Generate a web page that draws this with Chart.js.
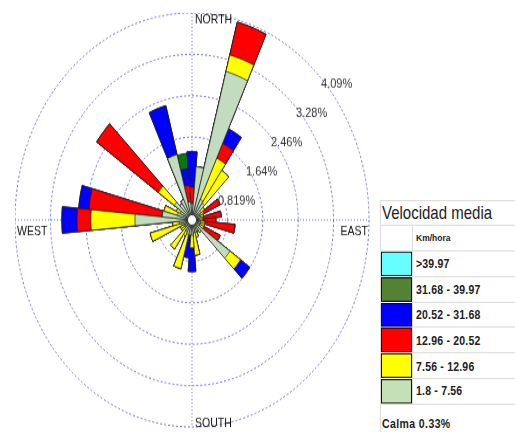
<!DOCTYPE html>
<html>
<head>
<meta charset="utf-8">
<script src="https://cdn.jsdelivr.net/npm/chart.js@4.4.0/dist/chart.umd.min.js"></script>
<style>
html, body { margin: 0; padding: 0; background: #fff; overflow: hidden; }
#page { position: absolute; left: 0; top: 0; width: 515px; height: 370px; transform: scaleY(1.17); transform-origin: 0 0; font-family: 'Liberation Sans', Arial, sans-serif; }
#wrap { position: absolute; left: 15px; top: 11.4px; width: 355px; height: 355px; }
#legend { position: absolute; left: 380px; top: 171px; width: 150px; border-collapse: collapse; border: 1px solid #c4c4c4; color: #222; background: #fff; }
#legend td { border: 1px solid #dcdcdc; padding: 0; white-space: nowrap; }
#legend td.ttl { height: 19.7px; font-size: 15px; padding-left: 1px; }
#legend td.unit { height: 21.4px; font-size: 8.5px; font-weight: bold; padding-left: 3px; }
#legend td.sw { width: 31px; border-top: none; border-bottom: none; }
#legend td.sw div { box-sizing: border-box; width: 31px; height: 20.8px; border: 1px solid #111; }
#legend td.lab { height: 20.8px; font-size: 10.5px; font-weight: bold; padding-left: 3px; letter-spacing: 0.2px; }
#legend td.calm { height: 22.2px; font-size: 10.5px; font-weight: bold; padding-left: 1px; letter-spacing: 0.4px; vertical-align: bottom; padding-bottom: 2px; }
</style>
</head>
<body>
<div id="page">
  <div id="wrap"><canvas id="roseChart" width="355" height="355"></canvas></div>
  <table id="legend"></table>
</div>
<script>
// wind directions, one petal every 10 degrees starting at north
var dirLabels = ['0', '10', '20', '30', '40', '50', '60', '70', '80', '90', '100', '110',
                 '120', '130', '140', '150', '160', '170', '180', '190', '200', '210', '220', '230',
                 '240', '250', '260', '270', '280', '290', '300', '310', '320', '330', '340', '350'];

// frequency (%) of each speed class per direction
var f1 = [0.32, 1.06, 3.04, 0.45, 0.41, 0.25, 0.20, 0.20, 0.15, 0.15, 0.20, 0.20,
          0.20, 1.07, 0.30, 0.25, 0.25, 0.25, 0.30, 0.30, 0.30, 0.25, 0.25, 0.20,
          0.20, 0.25, 0.30, 1.32, 0.69, 0.35, 0.30, 0.50, 0.40, 0.45, 1.34, 0.36];
var f2 = [0, 0, 0.34, 0.90, 0.79, 0.10, 0.10, 0.08, 0.10, 0.10, 0.10, 0.10,
          0.10, 0.30, 0, 0, 0.10, 0.45, 0.25, 0, 0.70, 0.10, 0.45, 0.10,
          0.10, 0.75, 0.15, 1.02, 0, 0.32, 0.10, 0.45, 0, 0, 0, 0];
var f3 = [0.33, 0, 0.67, 0.32, 0, 0, 0.42, 0, 0.43, 0.30, 0.70, 0,
          0.42, 0, 0, 0, 0, 0, 0, 0, 0, 0, 0, 0,
          0, 0, 0, 0.32, 1.70, 0, 0, 1.74, 0, 0, 0, 0.33];
var f4 = [0.70, 0, 0, 0.32, 0, 0, 0, 0, 0, 0, 0, 0,
          0, 0.26, 0, 0, 0, 0, 0.47, 0.45, 0, 0, 0, 0,
          0, 0, 0, 0.35, 0.24, 0, 0, 0, 0, 0, 1.00, 0.33];
var f5 = [0, 0, 0, 0, 0, 0, 0, 0, 0, 0, 0, 0,
          0, 0, 0, 0, 0, 0, 0, 0, 0, 0, 0, 0,
          0, 0, 0, 0, 0, 0, 0, 0, 0, 0, 0, 0.30];
var f6 = [0, 0, 0, 0, 0, 0, 0, 0, 0, 0, 0, 0,
          0, 0, 0, 0, 0, 0, 0, 0, 0, 0, 0, 0,
          0, 0, 0, 0, 0, 0, 0, 0, 0, 0, 0, 0];

var speedClasses = ['1.8 - 7.56', '7.56 - 12.96', '12.96 - 20.52', '20.52 - 31.68', '31.68 - 39.97', '>39.97'];
var calmPct = 0.33;

var ringValues = [0.819, 1.638, 2.457, 3.276, 4.095];
var ringLabels = ['0.819%', '1.64%', '2.46%', '3.28%', '4.09%'];

var petalColors = ['#c3dcc0', '#ffff00', '#ff0000', '#0000ff', '#087a08', '#66ffff'];
var legendColors = ['#c5dfb6', '#ffff00', '#ff0000', '#0000ff', '#548235', '#66ffff'];
var gridColor = '#7070c8';

// stack the classes: each dataset is the running total, smallest one drawn on top
var classSeries = [f1, f2, f3, f4, f5, f6];
var running = dirLabels.map(function () { return 0; });
var datasets = classSeries.map(function (serie, k) {
    running = running.map(function (v, i) { return v + serie[i]; });
    return {
        label: speedClasses[k],
        data: running.slice(),
        backgroundColor: petalColors[k],
        borderColor: '#1e1e1e',
        borderWidth: 0.7
    };
});

var roseDecor = {
    id: 'roseDecor',
    beforeDatasetsDraw: function (chart) {
        var s = chart.scales.r, c = chart.ctx;
        var R = s.drawingArea, x = s.xCenter, y = s.yCenter;
        c.save();
        c.strokeStyle = gridColor;
        c.lineWidth = 1;
        c.setLineDash([1, 2]);
        c.beginPath();
        c.moveTo(x, y - R); c.lineTo(x, y + R);
        c.moveTo(x - R, y); c.lineTo(x + R, y);
        c.stroke();
        c.restore();
    },
    afterDatasetsDraw: function (chart) {
        var s = chart.scales.r, c = chart.ctx;
        var R = s.drawingArea, x = s.xCenter, y = s.yCenter;
        c.save();
        // calm circle
        c.beginPath();
        c.arc(x, y, 4.5, 0, Math.PI * 2);
        c.fillStyle = '#fff';
        c.fill();
        c.strokeStyle = '#333';
        c.lineWidth = 1;
        c.stroke();
        // ring labels along the upper right diagonal
        c.font = '11px "Liberation Sans", Arial, sans-serif';
        c.fillStyle = '#333';
        c.textAlign = 'center';
        c.textBaseline = 'middle';
        ringValues.forEach(function (v, i) {
            var r = s.getDistanceFromCenterForValue(v);
            c.fillText(ringLabels[i], x + r * 0.7071 + 19.5, y - r * 0.7071 + 9);
        });
        // compass names
        c.font = '10.5px "Liberation Sans", Arial, sans-serif';
        c.fillStyle = '#111';
        c.textAlign = 'left';
        c.fillText('NORTH', x + 3, y - R + 6);
        c.fillText('SOUTH', x + 3, y + R - 3);
        c.fillText('WEST', x - R + 2, y + 10);
        c.textAlign = 'right';
        c.fillText('EAST', x + R - 1, y + 10);
        c.restore();
    }
};

var ctx = document.getElementById('roseChart').getContext('2d');
var roseChart = new Chart(ctx, {
    type: 'polarArea',
    data: {
        labels: dirLabels,
        datasets: datasets
    },
    options: {
        responsive: false,
        animation: false,
        events: [],
        layout: { padding: 0 },
        plugins: {
            legend: { display: false },
            tooltip: { enabled: false }
        },
        scales: {
            r: {
                min: 0,
                max: ringValues[ringValues.length - 1],
                startAngle: -5,
                afterBuildTicks: function (scale) {
                    scale.ticks = [0].concat(ringValues).map(function (v) { return { value: v }; });
                },
                ticks: { display: false },
                grid: { circular: true, color: gridColor, lineWidth: 1, borderDash: [2, 2] },
                border: { dash: [2, 2] },
                angleLines: { display: false },
                pointLabels: { display: false }
            }
        }
    },
    plugins: [roseDecor]
});

// legend table built from the same class arrays
var rows = '<tr><td colspan="2" class="ttl">Velocidad media</td></tr>';
rows += '<tr><td></td><td class="unit">Km/hora</td></tr>';
for (var i = speedClasses.length - 1; i >= 0; i--) {
    rows += '<tr><td class="sw"><div style="background:' + legendColors[i] + '"></div></td>' +
            '<td class="lab">' + speedClasses[i] + '</td></tr>';
}
rows += '<tr><td colspan="2" class="calm">Calma ' + calmPct.toFixed(2) + '%</td></tr>';
document.getElementById('legend').innerHTML = rows;
</script>
</body>
</html>
